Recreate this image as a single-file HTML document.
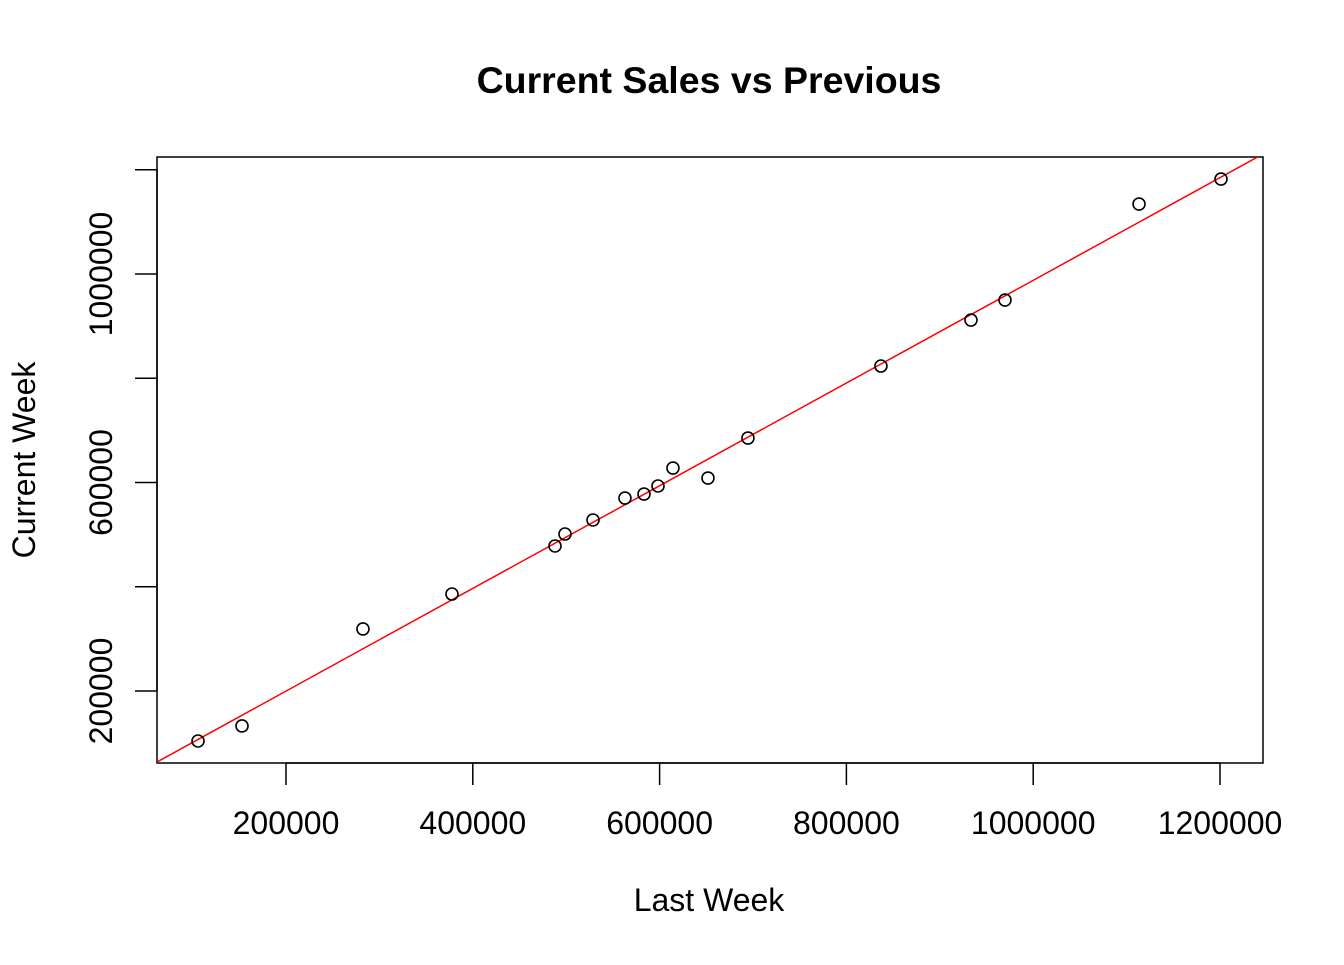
<!DOCTYPE html>
<html><head><meta charset="utf-8"><style>
body{margin:0;background:#fff;}
svg text{font-family:"Liberation Sans",Arial,sans-serif;}
</style></head><body>
<svg id="chart" width="1344" height="960" xmlns="http://www.w3.org/2000/svg">
<rect width="1344" height="960" fill="#fff"/>
<text x="709" y="93" text-anchor="middle" font-size="37.5" font-weight="bold">Current Sales vs Previous</text>
<text x="709" y="911" text-anchor="middle" font-size="32">Last Week</text>
<text transform="translate(35,460) rotate(-90)" text-anchor="middle" font-size="32">Current Week</text>
<rect x="157" y="157" width="1106" height="606" fill="none" stroke="#000" stroke-width="1.5"/>
<g id="xaxis"></g><g id="yaxis"></g>
<defs><clipPath id="clip"><rect x="157" y="157" width="1106" height="606"/></clipPath></defs>
<g id="fit" clip-path="url(#clip)"></g>
<g id="pts"></g>
</svg>
<script>
const lastWeek=[105800,152900,282400,377700,488000,498700,528700,562900,583300,598300,614300,651800,694600,837000,933400,969800,1113300,1201100];
const currentWeek=[106000,134800,320900,388000,480100,503100,530000,572100,579800,595200,629700,610500,687200,825400,913600,952000,1136100,1184100];
const xTicks=[200000,400000,600000,800000,1000000,1200000];
const yTicks=[200000,400000,600000,800000,1000000,1200000];
const yLabelTicks=[200000,600000,1000000];
const fitIntercept=2840, fitSlope=0.985;
const NS="http://www.w3.org/2000/svg";
function X(v){return 286+(v-200000)*186.8/200000;}
function Y(v){return 691-(v-200000)*104.25/200000;}
function mk(t,a,p){const e=document.createElementNS(NS,t);for(const k in a)e.setAttribute(k,a[k]);p.appendChild(e);return e;}
const xa=document.getElementById('xaxis'),ya=document.getElementById('yaxis');
mk('line',{x1:X(xTicks[0]),x2:X(xTicks[xTicks.length-1]),y1:763,y2:763,stroke:'#000','stroke-width':1.5},xa);
xTicks.forEach(t=>{
 const l=mk('line',{x1:X(t),x2:X(t),y1:763,y2:785,stroke:'#000','stroke-width':1.5},xa);
 
 
 const tx=mk('text',{x:X(t),y:834,'text-anchor':'middle','font-size':32},xa);tx.textContent=t;
 
 
});
yTicks.forEach(t=>{
 const l=mk('line',{x1:135,x2:157,y1:Y(t),y2:Y(t),stroke:'#000','stroke-width':1.5},ya);
 
 
});
mk('line',{x1:157,x2:157,y1:Y(yTicks[0]),y2:Y(yTicks[yTicks.length-1]),stroke:'#000','stroke-width':1.5},ya);
yLabelTicks.forEach(t=>{
 const tx=mk('text',{transform:`translate(112,${Y(t)}) rotate(-90)`,'text-anchor':'middle','font-size':32},ya);tx.textContent=t;
 
 
});
const fx0=0,fx1=1400000;
const fl=mk('line',{x1:X(fx0),y1:Y(fitIntercept+fitSlope*fx0),x2:X(fx1),y2:Y(fitIntercept+fitSlope*fx1),stroke:'#ff0000','stroke-width':1.5},document.getElementById('fit'));


const pg=document.getElementById('pts');
lastWeek.forEach((v,i)=>{
 const c=mk('circle',{cx:X(v),cy:Y(currentWeek[i])+1,r:6,fill:'none',stroke:'#000','stroke-width':1.6},pg);
 
 
});
</script>
</body></html>
